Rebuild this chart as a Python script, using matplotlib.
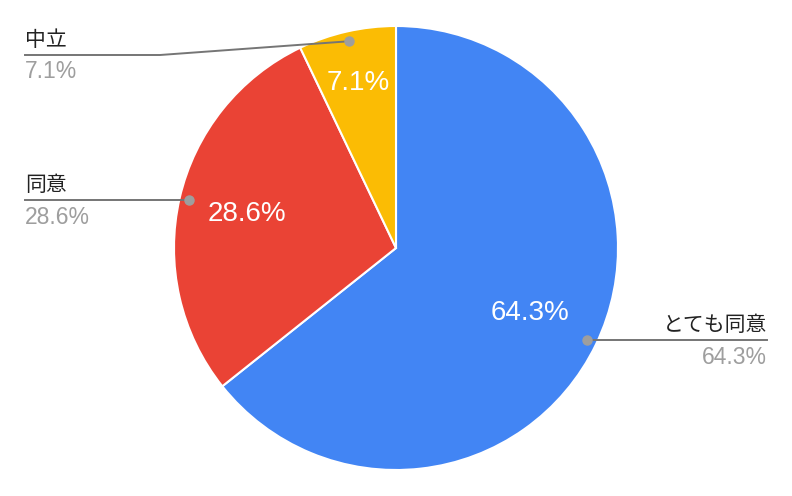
import numpy as np
import matplotlib.pyplot as plt

labels = ['とても同意', '同意', '中立']
values = [64.3, 28.6, 7.1]
colors = ['#4285F4', '#EA4335', '#FBBC04']

W, H = 792, 496
cx, cy, R = 396, 248, 222

fig = plt.figure(figsize=(W / 100, H / 100), dpi=100)
ax = fig.add_axes([0, 0, 1, 1])

wedges, texts, autotexts = ax.pie(
    values, colors=colors, startangle=90, counterclock=False,
    center=(cx, cy), radius=R, autopct='%.1f%%', pctdistance=0.7,
    wedgeprops=dict(edgecolor='white', linewidth=1.5),
    textprops=dict(color='white', fontsize=20, family=['Liberation Sans']))

ax.set_xlim(0, W)
ax.set_ylim(0, H)
ax.set_aspect('equal')
ax.axis('off')

# distance of the inner percentage from the centre, per slice
pct_r = [0.67, 0.69, 0.76]
for w, t, r in zip(wedges, autotexts, pct_r):
    a = np.deg2rad((w.theta1 + w.theta2) / 2)
    t.set_position((cx + r * R * np.cos(a), cy + r * R * np.sin(a)))

# label layout: (text x, alignment, line end x, elbow (x, y) or None)
layout = {
    'とても同意': (767, 'right', 767, None),
    '同意': (25, 'left', 25, None),
    '中立': (25, 'left', 25, (160, H - 55)),
}

cjk = ['Noto Sans CJK JP', 'DejaVu Sans']
for w, lab, val in zip(wedges, labels, values):
    ang = np.deg2rad((w.theta1 + w.theta2) / 2)
    dx = cx + 0.955 * R * np.cos(ang)
    dy = cy + 0.955 * R * np.sin(ang)
    tx, ha, ex, elbow = layout[lab]
    if elbow is None:
        xs, ys = [dx, ex], [dy, dy]
        ly = dy
    else:
        xs, ys = [dx, elbow[0], ex], [dy, elbow[1], elbow[1]]
        ly = elbow[1]
    ax.plot(xs, ys, color='#757575', lw=1.4, zorder=3)
    ax.plot(dx, dy, 'o', color='#9e9e9e', ms=6.5, zorder=4)
    ax.text(tx, ly + 15, lab, ha=ha, va='center', fontsize=15,
            color='#222222', family=cjk)
    ax.text(tx, ly - 17, f'{val:.1f}%', ha=ha, va='center', fontsize=16.5,
            color='#9e9e9e', family=['Liberation Sans'])

fig.savefig('out.png', dpi=100)
